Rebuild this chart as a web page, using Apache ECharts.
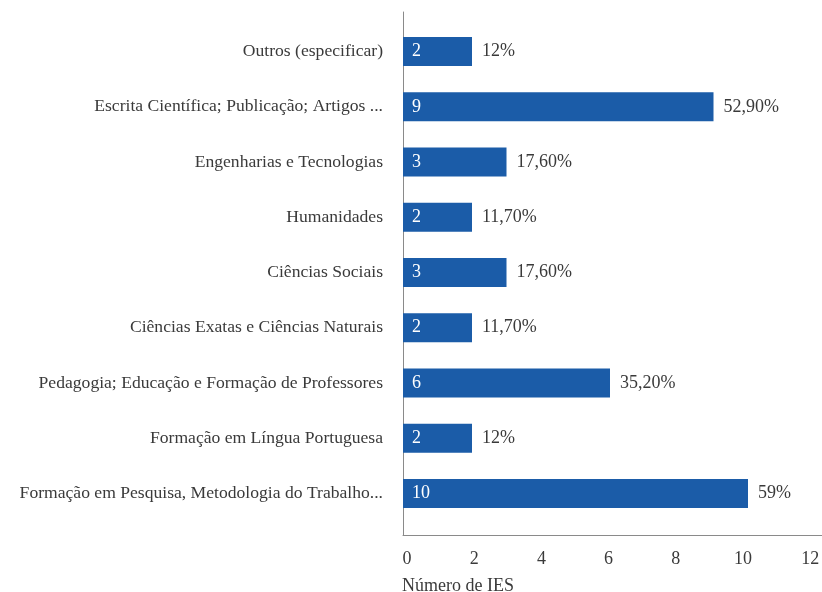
<!DOCTYPE html>
<html>
<head>
<meta charset="utf-8">
<script src="https://cdn.jsdelivr.net/npm/echarts@6/dist/echarts.min.js"></script>
<style>
  html, body { margin: 0; padding: 0; background: #fff; }
  #chart { width: 822px; height: 592px; }
</style>
</head>
<body>
<div id="chart"></div>
<script>
// Áreas de formação oferecidas (de cima para baixo)
const categories = [
  'Outros (especificar)',
  'Escrita Científica; Publicação; Artigos ...',
  'Engenharias e Tecnologias',
  'Humanidades',
  'Ciências Sociais',
  'Ciências Exatas e Ciências Naturais',
  'Pedagogia; Educação e Formação de Professores',
  'Formação em Língua Portuguesa',
  'Formação em Pesquisa, Metodologia do Trabalho...'
];
// Número de IES por área
const counts = [2, 9, 3, 2, 3, 2, 6, 2, 10];
// Percentual correspondente
const percents = ['12%', '52,90%', '17,60%', '11,70%', '17,60%', '11,70%', '35,20%', '12%', '59%'];
// Marcas do eixo horizontal
const xTicks = { min: 0, max: 12, interval: 2 };

const FONT = 'Liberation Serif';
const TEXT = '#3a3a3a';
const AXIS = '#8a8a8a';
const BAR = '#1b5ca8';

const GRID_LEFT = 403;
const BAR_RIGHT = 5;
// o eixo de referência vai até a borda direita; sua escala é um pouco mais curta
const frameMax = 12.47;

const chart = echarts.init(document.getElementById('chart'), null, { renderer: 'canvas' });

chart.setOption({
  animation: false,
  textStyle: { fontFamily: FONT },
  title: {
    text: 'Número de IES',
    left: 402,
    top: 577,
    padding: 0,
    textStyle: { fontFamily: FONT, fontSize: 18, fontWeight: 'normal', color: TEXT }
  },
  grid: [
    // moldura dos eixos
    { left: GRID_LEFT, right: 0, top: 12, bottom: 57, outerBoundsMode: 'none' },
    // área das barras
    { left: GRID_LEFT, right: BAR_RIGHT, top: 24, bottom: 71, outerBoundsMode: 'none' }
  ],
  xAxis: [
    {
      gridIndex: 0,
      type: 'value',
      min: xTicks.min, max: frameMax, interval: xTicks.interval,
      axisLine: { show: true, lineStyle: { color: AXIS, width: 1 } },
      axisTick: { show: false },
      splitLine: { show: false },
      axisLabel: {
        fontFamily: FONT, fontSize: 18, color: TEXT, margin: 15,
        padding: [0, 0, 0, 8],
        showMaxLabel: false
      }
    },
    {
      gridIndex: 1,
      type: 'value',
      min: xTicks.min, max: xTicks.max, interval: xTicks.interval,
      show: false
    }
  ],
  yAxis: [
    {
      gridIndex: 0,
      type: 'value',
      min: 0, max: 1,
      axisLine: { show: true, lineStyle: { color: AXIS, width: 1 } },
      axisTick: { show: false },
      axisLabel: { show: false },
      splitLine: { show: false }
    },
    {
      gridIndex: 1,
      type: 'category',
      inverse: true,
      data: categories,
      axisLine: { show: false },
      axisTick: { show: false },
      axisLabel: { fontFamily: FONT, fontSize: 17.6, color: TEXT, margin: 20 }
    }
  ],
  series: [
    {
      type: 'bar',
      xAxisIndex: 1,
      yAxisIndex: 1,
      data: counts,
      barWidth: 29,
      itemStyle: { color: BAR },
      label: {
        show: true,
        position: 'insideLeft',
        distance: 9,
        color: '#ffffff',
        fontFamily: FONT,
        fontSize: 18
      }
    },
    {
      type: 'bar',
      xAxisIndex: 1,
      yAxisIndex: 1,
      data: counts,
      barWidth: 29,
      barGap: '-100%',
      silent: true,
      itemStyle: { color: 'rgba(0,0,0,0)' },
      label: {
        show: true,
        position: 'right',
        distance: 10,
        color: TEXT,
        fontFamily: FONT,
        fontSize: 18,
        formatter: p => percents[p.dataIndex]
      }
    }
  ]
});
</script>
</body>
</html>
